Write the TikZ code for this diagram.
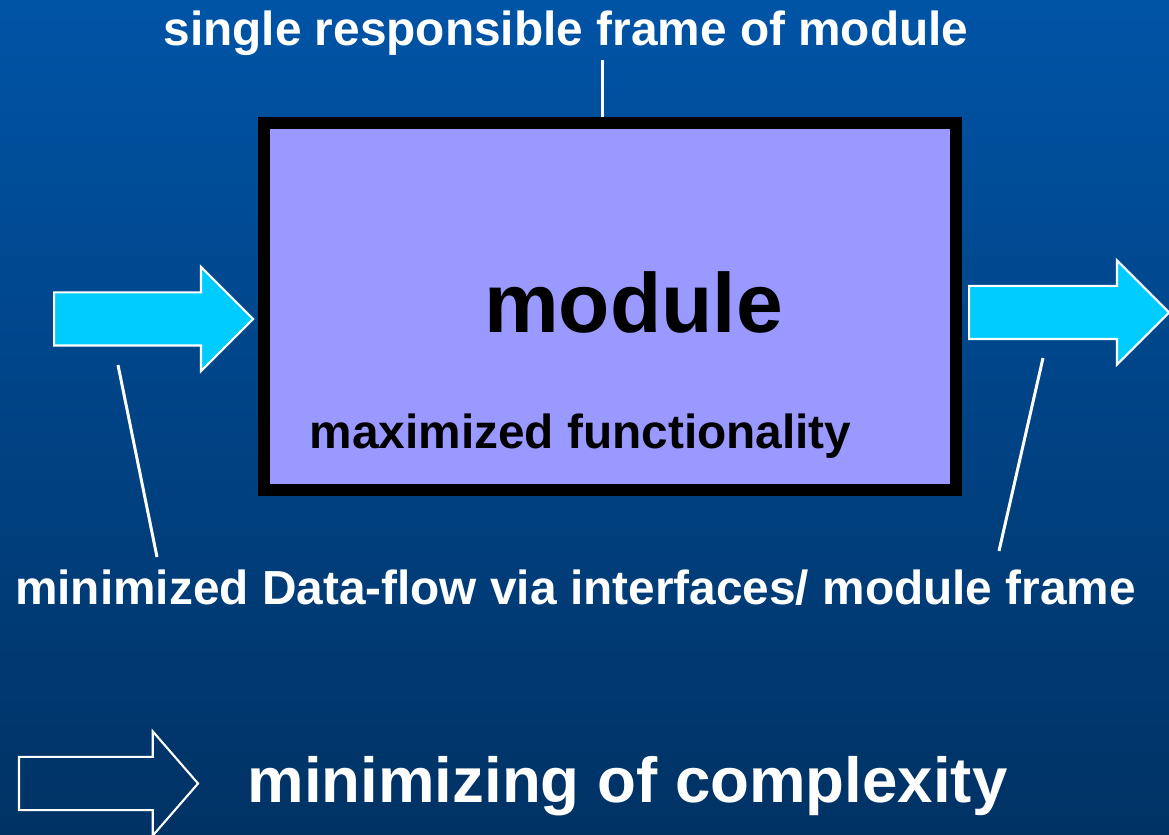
\documentclass[tikz,border=0pt]{standalone}
\usepackage{fontspec}
\setmainfont{Liberation Sans}
\usepackage{xcolor}
\usepackage{tikz}
\usetikzlibrary{arrows.meta,positioning,calc,shapes.arrows}
\definecolor{SlideTop}{HTML}{0054A6}
\definecolor{SlideBottom}{HTML}{003264}
\definecolor{ModLilac}{HTML}{9999FF}
\definecolor{FlowCyan}{HTML}{00CCFF}

\begin{document}
\begin{tikzpicture}[line width=0.75pt,
  label/.style={inner sep=0pt, anchor=base, text=white, font=\bfseries\fontsize{13.6}{16}\selectfont},
  modbox/.style={draw=black, line width=0.12cm, fill=ModLilac, minimum width=6.92cm, minimum height=3.67cm, inner sep=0pt},
  flow/.style={single arrow, draw=white, line width=0.6pt, fill=FlowCyan, inner sep=0.255cm, minimum width=0pt, single arrow head extend=0.255cm, anchor=tail},
  pointer/.style={draw=white, line width=0.85pt}]

\shade[top color=SlideTop, bottom color=SlideBottom] (0,0) rectangle (11.69,-8.35);
\useasboundingbox (0,0) rectangle (11.69,-8.35);

\node[modbox] (box) at (6.10,-3.065) {};
\node[inner sep=0pt, anchor=base, font=\bfseries\fontsize{23.9}{28}\selectfont] (mod) at (6.335,-3.33) {module};
\node[label, text=black] (func) at (5.805,-4.49) {maximized functionality};

\node[label] (title) at (5.66,-0.46) {single responsible frame of module};
\node[label] (flowtxt) at (5.755,-6.05) {minimized Data-flow via interfaces/ module frame};

\node[flow, minimum height=1.99cm] (in) at (0.53,-3.19) {};
\node[flow, minimum height=2.00cm] (out) at (9.68,-3.125) {};
\node[flow, fill=none, minimum height=1.79cm, single arrow tip angle=98] (goal) at (0.18,-7.835) {};
\node[label, font=\bfseries\fontsize{18.1}{22}\selectfont] (cplx) at (6.275,-8.02) {minimizing of complexity};

\coordinate (top) at (6.02,-0.60);
\coordinate (inL) at (1.18,-3.65);
\coordinate (lblL) at (1.57,-5.57);
\coordinate (outL) at (10.43,-3.58);
\coordinate (lblR) at (9.99,-5.51);

\draw[pointer] (top) -- (top |- box.north);
\draw[pointer] (inL) -- (lblL);
\draw[pointer] (outL) -- (lblR);
\end{tikzpicture}
\end{document}
